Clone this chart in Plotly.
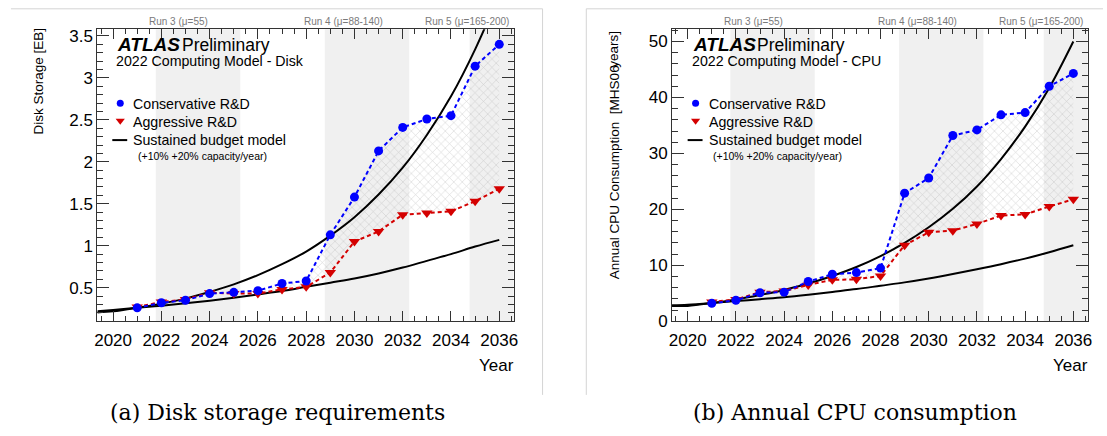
import plotly.graph_objects as go

# ---- data -----------------------------------------------------------------
years = list(range(2021, 2037))

disk_conservative = [0.26, 0.32, 0.35, 0.43, 0.445, 0.465, 0.55, 0.58,
                     1.13, 1.58, 2.13, 2.41, 2.51, 2.55, 3.14, 3.40]
disk_aggressive = [0.27, 0.33, 0.36, 0.44, 0.43, 0.43, 0.48, 0.51,
                   0.68, 1.05, 1.17, 1.37, 1.39, 1.41, 1.53, 1.68]

cpu_conservative = [3.2, 3.75, 5.1, 5.2, 7.1, 8.4, 8.7, 9.5,
                    22.9, 25.6, 33.2, 34.2, 36.9, 37.3, 42.0, 44.3]
cpu_aggressive = [3.45, 3.9, 5.2, 5.4, 6.5, 7.4, 7.5, 8.1,
                  13.6, 15.9, 16.2, 17.4, 18.9, 19.1, 20.5, 21.8]

# sustained budget model curves (+10% and +20% capacity per year)
budget_years = [2019.35, 2020, 2021, 2022, 2023, 2024, 2025, 2026, 2027,
                2028, 2029, 2030, 2031, 2032, 2033, 2034, 2035, 2036]
disk_budget_10 = [0.22, 0.235, 0.26, 0.285, 0.315, 0.345, 0.38, 0.42, 0.46,
                  0.51, 0.56, 0.61, 0.67, 0.74, 0.82, 0.90, 0.99, 1.07]
disk_budget_20 = [0.205, 0.218, 0.26, 0.31, 0.37, 0.45, 0.54, 0.65, 0.78,
                  0.93, 1.12, 1.34, 1.61, 1.93, 2.32, 2.78, 3.34, 4.0]
cpu_budget_10 = [2.85, 2.95, 3.25, 3.6, 3.95, 4.3, 4.75, 5.25, 5.75,
                 6.35, 6.95, 7.65, 8.45, 9.3, 10.2, 11.2, 12.35, 13.6]
cpu_budget_20 = [2.75, 2.75, 3.25, 3.9, 4.7, 5.6, 6.75, 8.1, 9.7,
                 11.65, 14.0, 16.8, 20.1, 24.1, 29.0, 34.8, 41.7, 50.0]

# LHC run periods
run_labels = ["Run 3 (\u03bc=55)", "Run 4 (\u03bc=88-140)", "Run 5 (\u03bc=165-200)"]
run_starts = [2021.77, 2028.77, 2034.77]
run_ends = [2025.27, 2032.27, 2036.6]
run_label_pos = [2022.73, 2029.55, 2034.66]

x_ticks = [2020, 2022, 2024, 2026, 2028, 2030, 2032, 2034, 2036]
disk_ticks = [0.5, 1, 1.5, 2, 2.5, 3, 3.5]
disk_tick_text = ["0.5", "1", "1.5", "2", "2.5", "3", "3.5"]
cpu_ticks = [0, 10, 20, 30, 40, 50]

# ---- page geometry (pixels) -------------------------------------------------
W, H = 1107, 436


def px(x):
    return x / W


def py(y):
    return 1 - y / H


FONT = "Liberation Sans, Arial, sans-serif"
SERIF = "DejaVu Serif, serif"
BLUE = "#0000ff"
RED = "#d40000"
BAND = "#f0f0f0"
AXIS = "#333333"

fig = go.Figure()

panels = [
    dict(xa="x", ya="y", cons=disk_conservative, aggr=disk_aggressive,
         b10=disk_budget_10, b20=disk_budget_20),
    dict(xa="x2", ya="y2", cons=cpu_conservative, aggr=cpu_aggressive,
         b10=cpu_budget_10, b20=cpu_budget_20),
]

for p in panels:
    # hatched band between the two R&D scenarios
    fig.add_trace(go.Scatter(
        x=years, y=p["aggr"], mode="lines", line=dict(width=0),
        hoverinfo="skip", showlegend=False, xaxis=p["xa"], yaxis=p["ya"]))
    fig.add_trace(go.Scatter(
        x=years, y=p["cons"], mode="lines", line=dict(width=0),
        fill="tonexty", fillcolor="rgba(0,0,0,0)",
        fillpattern=dict(shape="x", fgcolor="#a8a8a8",
                         bgcolor="rgba(0,0,0,0)", size=6, solidity=0.18),
        hoverinfo="skip", showlegend=False, xaxis=p["xa"], yaxis=p["ya"]))
    # sustained budget curves
    for b in (p["b10"], p["b20"]):
        fig.add_trace(go.Scatter(
            x=budget_years, y=b, mode="lines", line_shape="spline",
            line=dict(color="black", width=2), showlegend=False,
            xaxis=p["xa"], yaxis=p["ya"]))
    # scenario lines with markers
    fig.add_trace(go.Scatter(
        x=years, y=p["aggr"], mode="lines+markers",
        line=dict(color=RED, width=2, dash="4px,3px"),
        marker=dict(symbol="triangle-down", size=10, color=RED),
        showlegend=False, xaxis=p["xa"], yaxis=p["ya"]))
    fig.add_trace(go.Scatter(
        x=years, y=p["cons"], mode="lines+markers",
        line=dict(color=BLUE, width=2, dash="4px,3px"),
        marker=dict(symbol="circle", size=9, color=BLUE),
        showlegend=False, xaxis=p["xa"], yaxis=p["ya"]))

# legend glyphs, drawn on a full-page pixel axis
for dx in (0, 579):
    fig.add_trace(go.Scatter(
        x=[118 + dx], y=[104], mode="markers",
        marker=dict(symbol="circle", size=7, color=BLUE),
        showlegend=False, xaxis="x3", yaxis="y3", hoverinfo="skip"))
    fig.add_trace(go.Scatter(
        x=[118 + dx], y=[122], mode="markers",
        marker=dict(symbol="triangle-down", size=8, color=RED),
        showlegend=False, xaxis="x3", yaxis="y3", hoverinfo="skip"))

shapes = []
annotations = []

plot_left = [95, 673.3]
plot_right = [514, 1091.7]
plot_top, plot_bottom = 28, 328.3

for i, (xa, ya) in enumerate([("x", "y"), ("x2", "y2")]):
    for s, e in zip(run_starts, run_ends):
        shapes.append(dict(type="rect", xref=xa, yref=ya + " domain",
                           x0=s, x1=e, y0=0, y1=1, fillcolor=BAND,
                           line=dict(width=0), layer="below"))
    for lab, c in zip(run_labels, run_label_pos):
        annotations.append(dict(text=lab, xref=xa, yref="paper", x=c,
                                y=py(20), showarrow=False,
                                font=dict(family=FONT, size=10, color="#7a7a7a"),
                                xanchor="center", yanchor="middle"))

    dx = 0 if i == 0 else 579
    annotations += [
        dict(text="<b><i>ATLAS</i></b>", x=px(113 + dx), y=py(44),
             xref="paper", yref="paper", showarrow=False, xanchor="left",
             yanchor="middle", font=dict(family=FONT, size=19, color="black")),
        dict(text="Preliminary", x=px(178 + dx), y=py(44.5),
             xref="paper", yref="paper", showarrow=False, xanchor="left",
             yanchor="middle", font=dict(family=FONT, size=17.5, color="black")),
        dict(text="2022 Computing Model - " + ("Disk" if i == 0 else "CPU"),
             x=px(112 + dx), y=py(61), xref="paper", yref="paper",
             showarrow=False, xanchor="left", yanchor="middle",
             font=dict(family=FONT, size=14.2, color="black")),
        dict(text="Conservative R&D", x=px(129 + dx), y=py(105),
             xref="paper", yref="paper", showarrow=False, xanchor="left",
             yanchor="middle", font=dict(family=FONT, size=14.2, color="black")),
        dict(text="Aggressive R&D", x=px(129 + dx), y=py(123),
             xref="paper", yref="paper", showarrow=False, xanchor="left",
             yanchor="middle", font=dict(family=FONT, size=14.2, color="black")),
        dict(text="Sustained budget model", x=px(129 + dx), y=py(142),
             xref="paper", yref="paper", showarrow=False, xanchor="left",
             yanchor="middle", font=dict(family=FONT, size=14.2, color="black")),
        dict(text="(+10% +20% capacity/year)", x=px(134 + dx), y=py(158),
             xref="paper", yref="paper", showarrow=False, xanchor="left",
             yanchor="middle", font=dict(family=FONT, size=10.5, color="black")),
        dict(text="Year", x=px(plot_right[i] + 2), y=py(374), xref="paper",
             yref="paper", showarrow=False, xanchor="right", yanchor="middle",
             font=dict(family=FONT, size=17, color="black")),
    ]
    shapes.append(dict(type="line", xref="paper", yref="paper",
                       x0=px(110 + dx), x1=px(125 + dx), y0=py(142), y1=py(142),
                       line=dict(color="black", width=2)))

# axis titles
annotations += [
    dict(text="Disk Storage [EB]", x=px(36), y=py(24), xref="paper",
         yref="paper", showarrow=False, textangle=-90, xanchor="center",
         yanchor="top", font=dict(family=FONT, size=13.5, color="black")),
    dict(text="Annual CPU Consumption  [MHS06", x=px(615), y=py(287),
         xref="paper", yref="paper", showarrow=False, textangle=-90,
         xanchor="center", yanchor="bottom",
         font=dict(family=FONT, size=13.5, color="black")),
    dict(text="years]", x=px(615), y=py(28), xref="paper", yref="paper",
         showarrow=False, textangle=-90, xanchor="center", yanchor="top",
         font=dict(family=FONT, size=13.5, color="black")),
]

# captions
annotations += [
    dict(text="(a) Disk storage requirements", x=px(276), y=py(422),
         xref="paper", yref="paper", showarrow=False, xanchor="center",
         yanchor="middle", font=dict(family=SERIF, size=22, color="black")),
    dict(text="(b) Annual CPU consumption", x=px(857), y=py(422),
         xref="paper", yref="paper", showarrow=False, xanchor="center",
         yanchor="middle", font=dict(family=SERIF, size=22, color="black")),
]

# panel frames
FRAME = "#d4d4d4"
shapes += [
    dict(type="line", xref="paper", yref="paper", x0=px(8), x1=px(543),
         y0=py(7), y1=py(7), line=dict(color=FRAME, width=1)),
    dict(type="line", xref="paper", yref="paper", x0=px(543), x1=px(543),
         y0=py(7), y1=py(404), line=dict(color=FRAME, width=1)),
    dict(type="line", xref="paper", yref="paper", x0=px(587), x1=px(1107),
         y0=py(7), y1=py(7), line=dict(color=FRAME, width=1)),
    dict(type="line", xref="paper", yref="paper", x0=px(587), x1=px(587),
         y0=py(7), y1=py(404), line=dict(color=FRAME, width=1)),
]


def xaxis_cfg(i):
    return dict(
        domain=[px(plot_left[i]), px(plot_right[i])],
        range=[2019.35, 2036.6], anchor="y" if i == 0 else "y2",
        tickvals=x_ticks, ticks="inside", ticklen=10, tickwidth=1,
        tickcolor=AXIS, showline=True, linecolor=AXIS, linewidth=1,
        mirror="ticks", showgrid=False, zeroline=False,
        ticklabelstandoff=3,
        tickfont=dict(family=FONT, size=17, color="black"),
        minor=dict(dtick=0.5, tick0=2020, ticks="inside", ticklen=5,
                   tickcolor=AXIS, showgrid=False),
    )


def yaxis_cfg(i):
    base = dict(
        domain=[py(plot_bottom), py(plot_top)],
        anchor="x" if i == 0 else "x2",
        ticks="inside", ticklen=12, tickwidth=1, tickcolor=AXIS,
        showline=True, linecolor=AXIS, linewidth=1, mirror="ticks",
        showgrid=False, zeroline=False,
        tickfont=dict(family=FONT, size=17, color="black"),
    )
    if i == 0:
        base.update(range=[0.1, 3.58], tickvals=disk_ticks,
                    ticktext=disk_tick_text,
                    minor=dict(dtick=0.1, tick0=0, ticks="inside", ticklen=6,
                               tickcolor=AXIS, showgrid=False))
    else:
        base.update(range=[0, 52.2], tickvals=cpu_ticks,
                    minor=dict(dtick=2, tick0=0, ticks="inside", ticklen=6,
                               tickcolor=AXIS, showgrid=False))
    return base


fig.update_layout(
    width=W, height=H, margin=dict(l=0, r=0, t=0, b=0),
    paper_bgcolor="white", plot_bgcolor="rgba(0,0,0,0)",
    showlegend=False,
    xaxis=xaxis_cfg(0), yaxis=yaxis_cfg(0),
    xaxis2=xaxis_cfg(1), yaxis2=yaxis_cfg(1),
    xaxis3=dict(domain=[0, 1], range=[0, W], visible=False, anchor="y3",
                fixedrange=True),
    yaxis3=dict(domain=[0, 1], range=[H, 0], visible=False, anchor="x3",
                fixedrange=True),
    shapes=shapes, annotations=annotations,
)

fig.write_html("out.html")
